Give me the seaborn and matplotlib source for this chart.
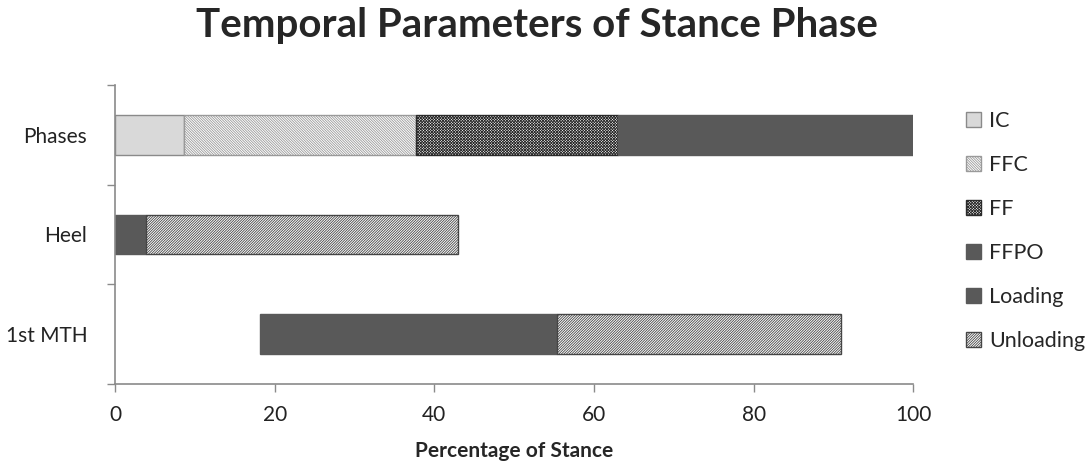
import matplotlib
matplotlib.use("Agg")
import matplotlib.pyplot as plt
from matplotlib.patches import Patch
import seaborn as sns
import pandas as pd

# Rows of the chart, top to bottom
rows = ["Phases", "Heel", "1st MTH"]

# Segment lengths (% of stance) per row; None = segment absent in that row
ic        = [8.7, None, None]
ffc       = [29.0, None, None]
ff        = [25.3, None, None]
ffpo      = [37.0, None, None]
loading   = [None, 3.9, 37.2]
unloading = [None, 39.1, 35.6]
# Where the first segment of each row begins
row_start = [0.0, 0.0, 18.2]

segment_names = ["IC", "FFC", "FF", "FFPO", "Loading", "Unloading"]
segment_values = [ic, ffc, ff, ffpo, loading, unloading]

styles = {
    "IC":        dict(facecolor="#d9d9d9", edgecolor="#8a8a8a", hatch=None),
    "FFC":       dict(facecolor="white", edgecolor="#9a9a9a", hatch="\\" * 13),
    "FF":        dict(facecolor="white", edgecolor="#2a2a2a", hatch="x" * 12),
    "FFPO":      dict(facecolor="#595959", edgecolor="#595959", hatch=None),
    "Loading":   dict(facecolor="#595959", edgecolor="#595959", hatch=None),
    "Unloading": dict(facecolor="white", edgecolor="#454545", hatch="/" * 13),
}

sns.set_theme(style="white")
plt.rcParams["font.family"] = ["Lato", "DejaVu Sans"]
plt.rcParams["hatch.linewidth"] = 0.6

fig = plt.figure(figsize=(10.92, 4.65), dpi=100)
ax = fig.add_axes([0.1053, 0.1742, 0.7310, 0.6430])

# Build stacked segments: each segment starts where the previous one ended
left_pos = list(row_start)
for name, vals in zip(segment_names, segment_values):
    cats, widths, lefts = [], [], []
    for i, v in enumerate(vals):
        if v is None:
            continue
        cats.append(rows[i])
        widths.append(v)
        lefts.append(left_pos[i])
        left_pos[i] += v
    df = pd.DataFrame({"row": cats, "pct": widths})
    st = styles[name]
    sns.barplot(data=df, x="pct", y="row", order=rows, orient="y",
                left=lefts, width=0.4, color=st["facecolor"],
                edgecolor=st["edgecolor"], hatch=st["hatch"],
                linewidth=1.0, errorbar=None, ax=ax, saturation=1)

ax.set_xlim(0, 100)
ax.set_ylim(2.5, -0.5)
ax.set_xticks([0, 20, 40, 60, 80, 100])
ax.set_xticklabels(["0", "20", "40", "60", "80", "100"], fontsize=15, color="#222222")
ax.set_yticks([0, 1, 2])
ax.set_yticklabels(rows, fontsize=15, color="#222222")
ax.tick_params(axis="y", length=0, pad=20)
ax.set_yticks([-0.5, 0.5, 1.5, 2.5], minor=True)
ax.tick_params(axis="y", which="minor", left=True, length=6, width=1, color="#8a8a8a", direction="out")
ax.tick_params(axis="x", bottom=True, length=6, width=1, color="#8a8a8a", direction="out", pad=9)
ax.set_xlabel("Percentage of Stance", fontsize=15, fontweight="bold", labelpad=12)
ax.set_ylabel("")

for side in ["top", "right"]:
    ax.spines[side].set_visible(False)
for side in ["left", "bottom"]:
    ax.spines[side].set_color("#8a8a8a")
    ax.spines[side].set_linewidth(1.2)

fig.suptitle("Temporal Parameters of Stance Phase", fontsize=29, fontweight="bold",
             x=0.492, y=0.985)

handles = [Patch(facecolor=styles[n]["facecolor"], edgecolor=styles[n]["edgecolor"],
                 hatch=styles[n]["hatch"], label=n) for n in segment_names]
fig.legend(handles=handles, loc="upper left", bbox_to_anchor=(0.877, 0.78),
           frameon=False, fontsize=15.5, handlelength=0.7, handleheight=0.7,
           handletextpad=0.35, labelspacing=1.12, borderaxespad=0)

fig.savefig("out.png", dpi=100)
